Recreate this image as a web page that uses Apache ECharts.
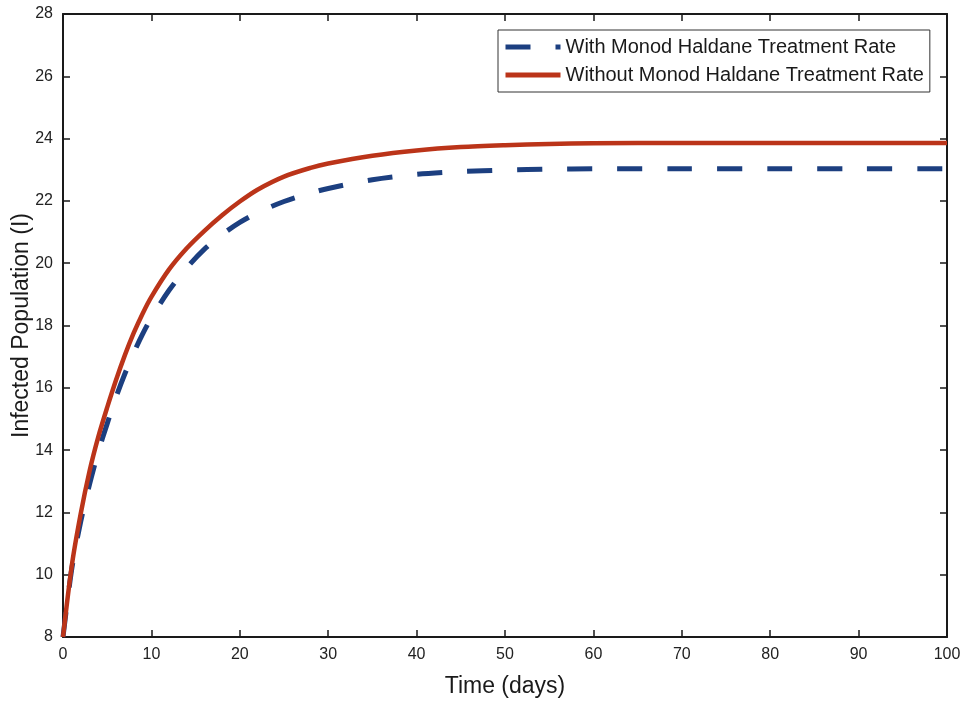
<!DOCTYPE html>
<html>
<head>
<meta charset="utf-8">
<title>Infected Population (I)</title>
<script src="https://cdn.jsdelivr.net/npm/echarts@6/dist/echarts.min.js"></script>
<style>
  html, body { margin: 0; padding: 0; background: #ffffff; }
  #chart { width: 963px; height: 702px; }
</style>
</head>
<body>
<div id="chart"></div>
<script>
// Time samples (days)
const timeDays = [0, 1, 2, 3, 4, 5, 6, 7, 8, 9, 10, 12, 14, 16, 18, 20, 22, 25, 28, 30, 35, 40, 45, 50, 55, 60, 70, 80, 90, 100];

// Infected population, with Monod Haldane treatment rate
const withTreatment = [8.0, 10.2, 11.7, 12.9, 13.95, 14.85, 15.7, 16.45, 17.12, 17.72, 18.25, 19.13, 19.85, 20.45, 20.92, 21.31, 21.62, 21.98, 22.25, 22.4, 22.68, 22.85, 22.94, 22.99, 23.02, 23.03, 23.03, 23.03, 23.03, 23.03];

// Infected population, without Monod Haldane treatment rate
const withoutTreatment = [8.0, 10.3, 11.95, 13.32, 14.43, 15.37, 16.25, 17.05, 17.76, 18.38, 18.92, 19.8, 20.48, 21.04, 21.54, 21.98, 22.36, 22.78, 23.06, 23.2, 23.45, 23.62, 23.73, 23.79, 23.83, 23.85, 23.86, 23.86, 23.86, 23.86];

const seriesNames = ['With Monod Haldane Treatment Rate', 'Without Monod Haldane Treatment Rate'];

const xTicks = { min: 0, max: 100, interval: 10 };
const yTicks = { min: 8, max: 28, interval: 2 };

const pairs = (ys) => timeDays.map((t, i) => [t, ys[i]]);

const blue = '#1c3f80';
const red = '#bb3419';
const blueDash = [25, 25];

const axisColor = '#1a1a1a';
const fontFamily = 'Liberation Sans, Arial, sans-serif';
const labelFont = { color: '#222', fontSize: 16, fontFamily: fontFamily };

const frameAxis = {
  axisLine: { show: true, onZero: false, lineStyle: { color: axisColor, width: 2 } },
  axisTick: { show: true, inside: true, length: 7, lineStyle: { color: axisColor, width: 1.5 } },
  splitLine: { show: false }
};

const chart = echarts.init(document.getElementById('chart'), null, { renderer: 'canvas' });

chart.setOption({
  backgroundColor: '#ffffff',
  animation: false,
  grid: { left: 63, right: 16, top: 14, bottom: 65, containLabel: false, outerBoundsMode: 'none' },
  legend: {
    data: [
      { name: seriesNames[0], itemStyle: { opacity: 0 }, lineStyle: { width: 5, type: blueDash, color: blue } },
      { name: seriesNames[1], itemStyle: { opacity: 0 }, lineStyle: { width: 5, color: red } }
    ],
    orient: 'vertical',
    left: 498,
    top: 30,
    padding: [7, 6, 7, 5],
    itemWidth: 55,
    itemHeight: 14,
    itemGap: 8,
    backgroundColor: '#ffffff',
    borderColor: '#333',
    borderWidth: 1,
    borderRadius: 0,
    textStyle: { color: '#1a1a1a', fontSize: 20, fontFamily: fontFamily }
  },
  xAxis: [
    Object.assign({
      type: 'value', min: xTicks.min, max: xTicks.max, interval: xTicks.interval,
      name: 'Time (days)', nameLocation: 'middle', nameGap: 38, nameMoveOverlap: false,
      nameTextStyle: { color: '#1a1a1a', fontSize: 23, fontFamily: fontFamily },
      axisLabel: Object.assign({ margin: 10 }, labelFont)
    }, frameAxis),
    Object.assign({
      type: 'value', position: 'top', min: xTicks.min, max: xTicks.max, interval: xTicks.interval,
      axisLabel: { show: false }
    }, frameAxis)
  ],
  yAxis: [
    Object.assign({
      type: 'value', min: yTicks.min, max: yTicks.max, interval: yTicks.interval,
      name: 'Infected Population (I)', nameLocation: 'middle', nameGap: 30, nameRotate: 90, nameMoveOverlap: false,
      nameTextStyle: { color: '#1a1a1a', fontSize: 23, fontFamily: fontFamily },
      axisLabel: Object.assign({ margin: 10 }, labelFont)
    }, frameAxis),
    Object.assign({
      type: 'value', position: 'right', min: yTicks.min, max: yTicks.max, interval: yTicks.interval,
      axisLabel: { show: false }
    }, frameAxis)
  ],
  series: [
    {
      name: seriesNames[0],
      type: 'line',
      data: pairs(withTreatment),
      smooth: 0.3,
      symbol: 'none',
      lineStyle: { color: blue, width: 5, type: blueDash, cap: 'butt' },
      itemStyle: { color: blue },
      z: 2
    },
    {
      name: seriesNames[1],
      type: 'line',
      data: pairs(withoutTreatment),
      smooth: 0.3,
      symbol: 'none',
      lineStyle: { color: red, width: 4.5 },
      itemStyle: { color: red },
      z: 3
    }
  ]
});
</script>
</body>
</html>
